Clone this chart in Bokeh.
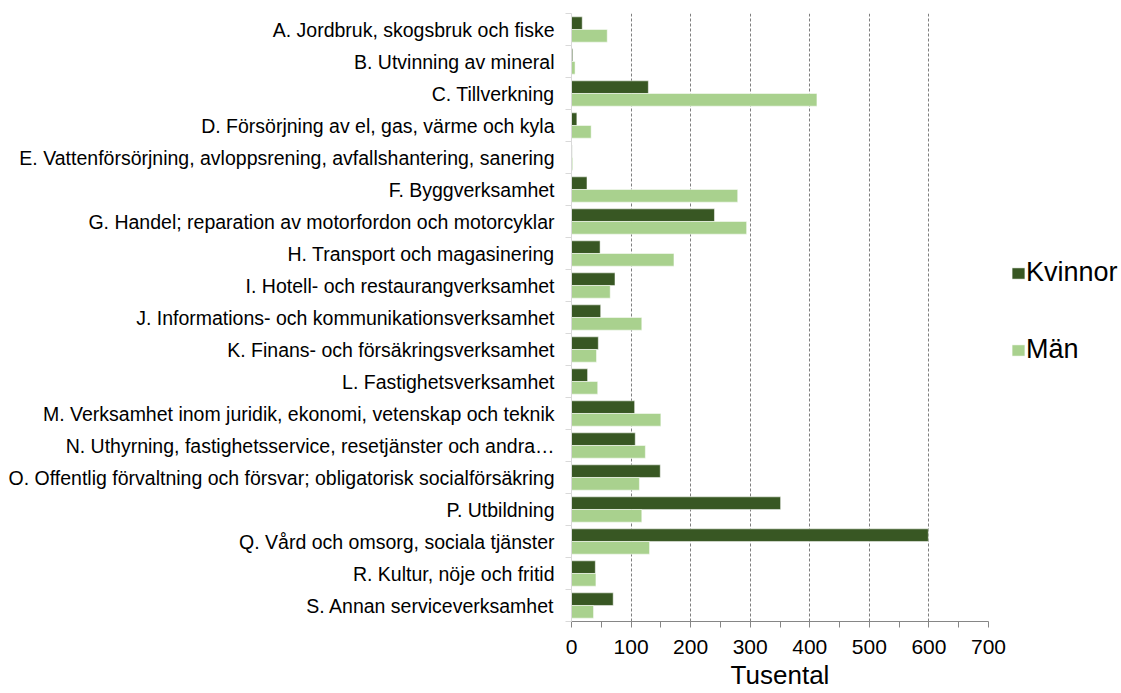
from bokeh.plotting import figure
from bokeh.models import ColumnDataSource, FixedTicker, Legend, LegendItem
from bokeh.embed import file_html
from bokeh.resources import INLINE

categories = [
    "A. Jordbruk, skogsbruk och fiske",
    "B. Utvinning av mineral",
    "C. Tillverkning",
    "D. Försörjning av el, gas, värme och kyla",
    "E. Vattenförsörjning, avloppsrening, avfallshantering, sanering",
    "F. Byggverksamhet",
    "G. Handel; reparation av motorfordon och motorcyklar",
    "H. Transport och magasinering",
    "I. Hotell- och restaurangverksamhet",
    "J. Informations- och kommunikationsverksamhet",
    "K. Finans- och försäkringsverksamhet",
    "L. Fastighetsverksamhet",
    "M. Verksamhet inom juridik, ekonomi, vetenskap och teknik",
    "N. Uthyrning, fastighetsservice, resetjänster och andra…",
    "O. Offentlig förvaltning och försvar; obligatorisk socialförsäkring",
    "P. Utbildning",
    "Q. Vård och omsorg, sociala tjänster",
    "R. Kultur, nöje och fritid",
    "S. Annan serviceverksamhet",
]
kvinnor = [18, 2, 129, 9, 1, 26, 240, 48, 73, 49, 45, 27, 106, 107, 149, 351, 599, 40, 70]
man = [60, 6, 412, 33, 2, 279, 294, 172, 65, 118, 42, 44, 150, 124, 114, 118, 131, 41, 37]
x_ticks = [0, 100, 200, 300, 400, 500, 600, 700]
x_minor_ticks = [50, 150, 250, 350, 450, 550, 650]
series_names = ["Kvinnor", "Män"]

DARK = "#385723"
LIGHT = "#A9D18E"
FONT = "Liberation Sans"

n = len(categories)
ypos = [n - 1 - i for i in range(n)]
off = 0.198
bh = 0.395

src = ColumnDataSource(dict(
    y=ypos,
    yk=[y + off for y in ypos],
    ym=[y - off for y in ypos],
    k=kvinnor,
    m=man,
))

p = figure(
    frame_width=417, frame_height=608,
    min_border_left=571, min_border_right=125, min_border_top=13, min_border_bottom=60,
    x_range=(0, 700), y_range=(-0.5, n - 0.5),
    output_backend="svg", toolbar_location=None,
)
p.outline_line_color = None
p.background_fill_color = "white"

rk = p.hbar(y="yk", right="k", left=0, height=bh, source=src, fill_color=DARK,
            line_color="white", line_alpha=0.5, line_width=1)
rm = p.hbar(y="ym", right="m", left=0, height=bh, source=src, fill_color=LIGHT,
            line_color="white", line_alpha=0.5, line_width=1)

# x axis
p.xaxis.ticker = FixedTicker(ticks=x_ticks, minor_ticks=x_minor_ticks)
p.xaxis.axis_line_color = "#868686"
p.xaxis.major_tick_line_color = "#868686"
p.xaxis.minor_tick_line_color = "#868686"
p.xaxis.major_tick_out = 6
p.xaxis.major_tick_in = 0
p.xaxis.minor_tick_out = 6
p.xaxis.minor_tick_in = 0
p.xaxis.major_label_text_font = FONT
p.xaxis.major_label_text_font_size = "21px"
p.xaxis.major_label_text_color = "black"
p.xaxis.major_label_standoff = 12
p.xaxis.axis_label = "Tusental"
p.xaxis.axis_label_text_font = FONT
p.xaxis.axis_label_text_font_size = "26px"
p.xaxis.axis_label_text_font_style = "normal"
p.xaxis.axis_label_text_color = "black"
p.xaxis.axis_label_standoff = 3

# y axis
p.yaxis.ticker = FixedTicker(ticks=ypos, minor_ticks=[y - 0.5 for y in range(n + 1)])
p.yaxis.major_label_overrides = {y: c for y, c in zip(ypos, categories)}
p.yaxis.axis_line_color = "#D9D9D9"
p.yaxis.major_tick_line_color = None
p.yaxis.major_tick_out = 0
p.yaxis.major_tick_in = 0
p.yaxis.minor_tick_line_color = "#D9D9D9"
p.yaxis.minor_tick_out = 6
p.yaxis.minor_tick_in = 0
p.yaxis.major_label_text_font = FONT
p.yaxis.major_label_text_font_size = "19.5px"
p.yaxis.major_label_text_color = "black"
p.yaxis.major_label_standoff = 11

p.ygrid.grid_line_color = None
p.xgrid.grid_line_color = "#7F7F7F"
p.xgrid.grid_line_dash = "3 2"
p.xgrid.grid_line_width = 1

legend = Legend(items=[LegendItem(label=series_names[0], renderers=[rk]),
                       LegendItem(label=series_names[1], renderers=[rm])],
                location=(22, 256), orientation="vertical")
legend.border_line_color = None
legend.background_fill_alpha = 0
legend.label_text_font = FONT
legend.label_text_font_size = "27px"
legend.label_text_color = "black"
legend.glyph_width = 16
legend.glyph_height = 14
legend.label_standoff = 0
legend.spacing = 46
legend.margin = 0
legend.padding = 0
p.add_layout(legend, "right")

open("out.html", "w").write(file_html(p, INLINE))
